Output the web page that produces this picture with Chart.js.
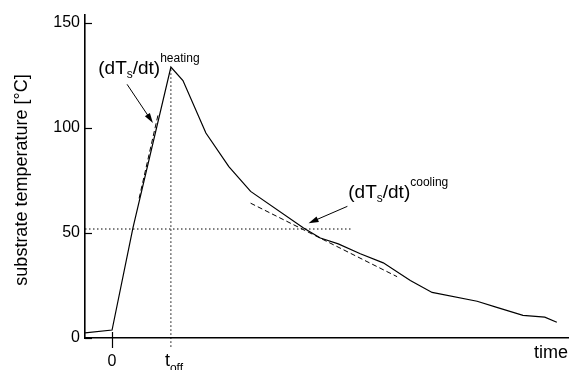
<!DOCTYPE html>
<html>
<head>
<meta charset="utf-8">
<script src="https://cdn.jsdelivr.net/npm/chart.js@4.4.1/dist/chart.umd.min.js"></script>
<style>
  html, body { margin: 0; padding: 0; background: #fff; }
  #wrap { width: 579px; height: 370px; }
</style>
</head>
<body>
<div id="wrap"><canvas id="chart"></canvas></div>
<script>
// time in arbitrary units (heater switched off at T_OFF), substrate temperature in °C
const T_OFF = 2;
const time        = [-0.92, 0, 0.71, 2.0, 2.41, 3.19, 3.97, 4.71, 6.51, 7.08, 7.69, 8.44, 9.22, 10.14, 10.88, 12.41, 13.08, 13.97, 14.71, 15.12];
const temperature = [2.4, 3.8, 52.4, 129, 122.6, 97.6, 81.6, 69.8, 52.4, 47.6, 44.8, 40.1, 35.8, 27.4, 21.7, 17.5, 14.6, 10.8, 9.9, 7.5];

// tangents used to read the heating / cooling rates
const heatTangentT = [0.92, 1.56];
const heatTangentY = [66.5, 106.1];
const coolTangentT = [4.71, 9.69];
const coolTangentY = [64.2, 29.2];

// dotted guides: level where the cooling slope is taken, and t_off marker
const levelT = [-0.92, 8.17];
const levelY = [51.9, 51.9];
const offT   = [T_OFF, T_OFF];
const offY   = [-4.2, 129];

const yTicks = [0, 50, 100, 150];

// arrows pointing from the labels to the tangents: [tail, head]
const heatArrow = [[0.51, 120.8], [1.39, 102.4]];
const coolArrow = [[8.0, 62.7], [6.68, 54.7]];
const heatLabelAt = [-0.47, 125.5];
const coolLabelAt = [8.03, 66.5];

const FONT = '"Liberation Sans", Arial, sans-serif';
const pts = (xs, ys) => xs.map((x, i) => ({ x, y: ys[i] }));

function rich(ctx, x, y, parts) {
  ctx.textAlign = 'left';
  ctx.textBaseline = 'alphabetic';
  for (const p of parts) {
    ctx.font = `${p.size}px ${FONT}`;
    ctx.fillText(p.text, x, y + (p.dy || 0));
    x += ctx.measureText(p.text).width;
  }
}

function arrow(ctx, x1, y1, x2, y2) {
  const a = Math.atan2(y2 - y1, x2 - x1);
  const len = 10, half = 3;
  ctx.beginPath();
  ctx.moveTo(x1, y1);
  ctx.lineTo(x2 - Math.cos(a) * len * 0.7, y2 - Math.sin(a) * len * 0.7);
  ctx.stroke();
  ctx.beginPath();
  ctx.moveTo(x2, y2);
  ctx.lineTo(x2 - Math.cos(a) * len - Math.sin(a) * half, y2 - Math.sin(a) * len + Math.cos(a) * half);
  ctx.lineTo(x2 - Math.cos(a) * len + Math.sin(a) * half, y2 - Math.sin(a) * len - Math.cos(a) * half);
  ctx.closePath();
  ctx.fill();
}

const decorations = {
  id: 'decorations',
  afterDraw(chart) {
    const { ctx, chartArea: area, scales: { x, y } } = chart;
    ctx.save();
    ctx.strokeStyle = '#000';
    ctx.fillStyle = '#000';
    ctx.lineWidth = 1.2;

    // inward tick marks on the y axis
    for (const v of yTicks) {
      const py = Math.round(y.getPixelForValue(v)) + 0.5;
      ctx.beginPath();
      ctx.moveTo(area.left, py);
      ctx.lineTo(area.left + 7, py);
      ctx.stroke();
    }

    // tick at t = 0 crossing the time axis
    const x0 = Math.round(x.getPixelForValue(0)) + 0.5;
    ctx.beginPath();
    ctx.moveTo(x0, area.bottom - 6);
    ctx.lineTo(x0, area.bottom + 10);
    ctx.stroke();

    // x tick labels
    ctx.font = `16px ${FONT}`;
    ctx.textAlign = 'center';
    ctx.textBaseline = 'alphabetic';
    ctx.fillText('0', x.getPixelForValue(0), area.bottom + 28);
    rich(ctx, x.getPixelForValue(T_OFF) - 6, area.bottom + 28, [
      { text: 't', size: 18 },
      { text: 'off', size: 12, dy: 6 },
    ]);

    ctx.font = `18px ${FONT}`;
    ctx.textAlign = 'right';
    ctx.fillText('time', area.right, area.bottom + 20);

    // y axis title
    ctx.save();
    ctx.translate(27, 180);
    ctx.rotate(-Math.PI / 2);
    ctx.font = `18px ${FONT}`;
    ctx.textAlign = 'center';
    ctx.fillText('substrate temperature [°C]', 0, 0);
    ctx.restore();

    // rate labels
    rich(ctx, x.getPixelForValue(heatLabelAt[0]), y.getPixelForValue(heatLabelAt[1]), [
      { text: '(dT', size: 19 },
      { text: 's', size: 12, dy: 4 },
      { text: '/dt)', size: 19 },
      { text: 'heating', size: 12, dy: -12 },
    ]);
    rich(ctx, x.getPixelForValue(coolLabelAt[0]), y.getPixelForValue(coolLabelAt[1]), [
      { text: '(dT', size: 19 },
      { text: 's', size: 12, dy: 4 },
      { text: '/dt)', size: 19 },
      { text: 'cooling', size: 12, dy: -12 },
    ]);

    ctx.lineWidth = 1;
    for (const [[t1, v1], [t2, v2]] of [heatArrow, coolArrow]) {
      arrow(ctx, x.getPixelForValue(t1), y.getPixelForValue(v1),
                 x.getPixelForValue(t2), y.getPixelForValue(v2));
    }
    ctx.restore();
  },
};

const dotted = { borderColor: '#000', borderWidth: 1, borderDash: [1.5, 2.5], pointRadius: 0, fill: false };
const dashed = { borderColor: '#000', borderWidth: 1, borderDash: [5, 3], pointRadius: 0, fill: false };

new Chart(document.getElementById('chart'), {
  type: 'line',
  data: {
    datasets: [
      { data: pts(time, temperature), borderColor: '#000', borderWidth: 1.2, pointRadius: 0, tension: 0 },
      { data: pts(heatTangentT, heatTangentY), ...dashed },
      { data: pts(coolTangentT, coolTangentY), ...dashed },
      { data: pts(levelT, levelY), ...dotted },
      { data: pts(offT, offY), ...dotted, clip: false },
    ],
  },
  options: {
    responsive: true,
    maintainAspectRatio: false,
    animation: false,
    events: [],
    layout: { padding: { top: 12, right: 11, left: 0, bottom: 0 } },
    plugins: { legend: { display: false }, tooltip: { enabled: false } },
    scales: {
      x: {
        type: 'linear',
        min: -0.92,
        max: 15.5,
        grid: { display: false, drawTicks: false },
        border: { color: '#000', width: 1.6 },
        ticks: { display: false },
        afterFit: s => { s.height = 32; },
      },
      y: {
        min: 0,
        max: 154,
        grid: { display: false, drawTicks: false },
        border: { color: '#000', width: 1.6 },
        afterBuildTicks: s => { s.ticks = yTicks.map(value => ({ value })); },
        ticks: { color: '#000', padding: 5, font: { family: FONT, size: 16 } },
        afterFit: s => { s.width = 85; },
      },
    },
  },
  plugins: [decorations],
});
</script>
</body>
</html>
